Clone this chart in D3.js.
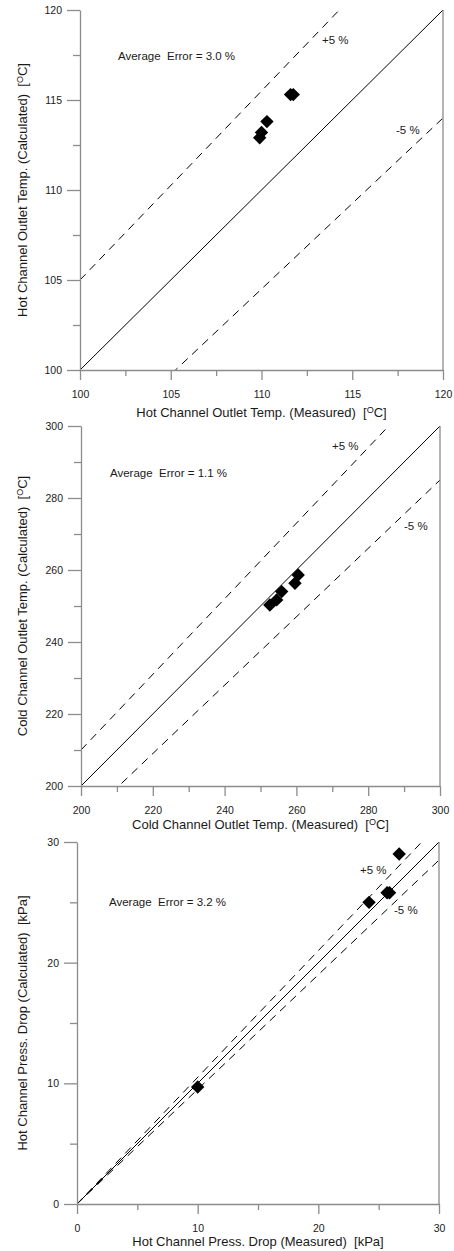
<!DOCTYPE html>
<html>
<head>
<meta charset="utf-8">
<script src="https://cdn.jsdelivr.net/npm/d3@7"></script>
<style>
  body { margin: 0; background: #fff; }
  svg { display: block; font-family: "Liberation Sans", Arial, sans-serif; }
  svg text { white-space: pre; }
</style>
</head>
<body>
<svg id="chart" width="454" height="1251"></svg>
<script>
// hot channel outlet temperature (deg C)
const hotOutletMeasured   = [109.9, 110.0, 110.3, 111.6, 111.75];
const hotOutletCalculated = [112.9, 113.2, 113.8, 115.3, 115.3];

// cold channel outlet temperature (deg C)
const coldOutletMeasured   = [252.6, 254.5, 255.9, 259.6, 260.5];
const coldOutletCalculated = [250.3, 251.7, 254.0, 256.3, 258.6];

// hot channel pressure drop (kPa)
const hotDropMeasured   = [10.0, 24.2, 25.7, 25.9, 26.7];
const hotDropCalculated = [9.7, 25.0, 25.8, 25.8, 29.0];

// axis ticks
const hotOutletTicks  = [100, 105, 110, 115, 120];
const coldOutletTicks = [200, 220, 240, 260, 280, 300];
const hotDropTicks    = [0, 10, 20, 30];

// error band factors and labels
const bandFactors = [1.05, 0.95];
const bandLabels  = ["+5 %", "-5 %"];
const avgErrors   = ["Average  Error = 3.0 %", "Average  Error = 1.1 %", "Average  Error = 3.2 %"];

const svg = d3.select("#chart");
const axisColor = "#8c8c8c";
const textColor = "#1a1a1a";

function drawPanel(p) {
    let g = svg.append("g");

    let x = d3.scaleLinear().domain(p.domain).range([p.left, p.right]);
    let y = d3.scaleLinear().domain(p.domain).range([p.bottom, p.top]);

    // minor ticks sit halfway between the labelled ones
    let minor = p.ticks.slice(1).map((t, i) => (t + p.ticks[i]) / 2);

    // clip so the reference lines stop at the frame
    let clipId = "clip" + p.id;
    g.append("clipPath").attr("id", clipId)
        .append("rect")
        .attr("x", p.left).attr("y", p.top)
        .attr("width", p.right - p.left).attr("height", p.bottom - p.top);

    let lines = g.append("g").attr("clip-path", `url(#${clipId})`);
    let d0 = p.domain[0], d1 = p.domain[1];

    // 1:1 line
    lines.append("line")
        .attr("x1", x(d0)).attr("y1", y(d0))
        .attr("x2", x(d1)).attr("y2", y(d1))
        .attr("stroke", "#000").attr("stroke-width", 1);

    // +/- 5 % dashed lines
    bandFactors.forEach(f => {
        lines.append("line")
            .attr("x1", x(d0)).attr("y1", y(d0 * f))
            .attr("x2", x(d1)).attr("y2", y(d1 * f))
            .attr("stroke", "#000").attr("stroke-width", 1)
            .attr("stroke-dasharray", "8,6");
    });

    // right frame line
    g.append("line")
        .attr("x1", p.right).attr("x2", p.right)
        .attr("y1", p.top).attr("y2", p.bottom)
        .attr("stroke", axisColor).attr("stroke-width", 1.3);

    // x axis, major then minor ticks
    let xMajor = d3.axisBottom(x).tickValues(p.ticks).tickSize(10).tickPadding(11).tickSizeOuter(0);
    let xMinor = d3.axisBottom(x).tickValues(minor).tickSize(6).tickFormat("");
    g.append("g").attr("transform", `translate(0,${p.bottom})`).call(xMajor)
        .call(a => a.selectAll("text").attr("fill", textColor).style("font-size", "10.5px").style("font-family", "inherit"));
    g.append("g").attr("transform", `translate(0,${p.bottom})`).call(xMinor)
        .call(a => a.select(".domain").remove());

    // y axis
    let yMajor = d3.axisLeft(y).tickValues(p.ticks).tickSize(13).tickPadding(5).tickSizeOuter(0);
    let yMinor = d3.axisLeft(y).tickValues(minor).tickSize(7).tickFormat("");
    g.append("g").attr("transform", `translate(${p.left},0)`).call(yMajor)
        .call(a => a.selectAll("text").attr("fill", textColor).style("font-size", "10.5px").style("font-family", "inherit"));
    g.append("g").attr("transform", `translate(${p.left},0)`).call(yMinor)
        .call(a => a.select(".domain").remove());

    g.selectAll(".domain, .tick line").attr("stroke", axisColor).attr("stroke-width", 1.3);

    // measured vs calculated points
    let diamond = d3.symbol(d3.symbolSquare).size(90);
    g.append("g").selectAll("path")
        .data(p.measured.map((m, i) => [m, p.calculated[i]]))
        .enter()
        .append("path")
        .attr("d", diamond)
        .attr("transform", d => `translate(${x(d[0])},${y(d[1])}) rotate(45)`)
        .attr("fill", "#000");

    // annotations
    g.append("text").attr("x", p.avgPos[0]).attr("y", p.avgPos[1])
        .attr("font-size", "11.5px").attr("fill", textColor).text(p.avgText);
    bandLabels.forEach((t, i) => {
        g.append("text").attr("x", p.bandPos[i][0]).attr("y", p.bandPos[i][1])
            .attr("font-size", "11.5px").attr("fill", textColor).text(t);
    });

    // x title
    let xt = g.append("text")
        .attr("x", (p.left + p.right) / 2).attr("y", p.bottom + p.xTitleGap)
        .attr("text-anchor", "middle").attr("font-size", "13px").attr("fill", textColor);
    addTitle(xt, p.xTitle, p.unit);

    // y title
    let yt = g.append("text")
        .attr("transform", `translate(27,${(p.top + p.bottom) / 2}) rotate(-90)`)
        .attr("text-anchor", "middle").attr("font-size", "13px").attr("fill", textColor);
    addTitle(yt, p.yTitle, p.unit);
}

// title text with a unit in brackets, degrees as a raised small O
function addTitle(el, label, unit) {
    el.append("tspan").text(label + "  [");
    if (unit === "oC") {
        el.append("tspan").attr("font-size", "9px").attr("dy", -4.5).text("O");
        el.append("tspan").attr("dy", 4.5).text("C]");
    } else {
        el.append("tspan").text(unit + "]");
    }
}

drawPanel({
    id: 1, left: 80, right: 443, top: 10, bottom: 370,
    domain: [100, 120], ticks: hotOutletTicks,
    measured: hotOutletMeasured, calculated: hotOutletCalculated,
    avgText: avgErrors[0], avgPos: [118, 60],
    bandPos: [[322, 44], [396, 134]], xTitleGap: 47,
    xTitle: "Hot Channel Outlet Temp. (Measured)", yTitle: "Hot Channel Outlet Temp. (Calculated)", unit: "oC"
});

drawPanel({
    id: 2, left: 81, right: 440, top: 426, bottom: 786,
    domain: [200, 300], ticks: coldOutletTicks,
    measured: coldOutletMeasured, calculated: coldOutletCalculated,
    avgText: avgErrors[1], avgPos: [110, 477],
    bandPos: [[332, 450], [404, 530]], xTitleGap: 43,
    xTitle: "Cold Channel Outlet Temp. (Measured)", yTitle: "Cold Channel Outlet Temp. (Calculated)", unit: "oC"
});

drawPanel({
    id: 3, left: 77, right: 439, top: 842, bottom: 1204,
    domain: [0, 30], ticks: hotDropTicks,
    measured: hotDropMeasured, calculated: hotDropCalculated,
    avgText: avgErrors[2], avgPos: [109, 906],
    bandPos: [[360, 874], [394, 914]], xTitleGap: 42,
    xTitle: "Hot Channel Press. Drop (Measured)", yTitle: "Hot Channel Press. Drop (Calculated)", unit: "kPa"
});
</script>
</body>
</html>
